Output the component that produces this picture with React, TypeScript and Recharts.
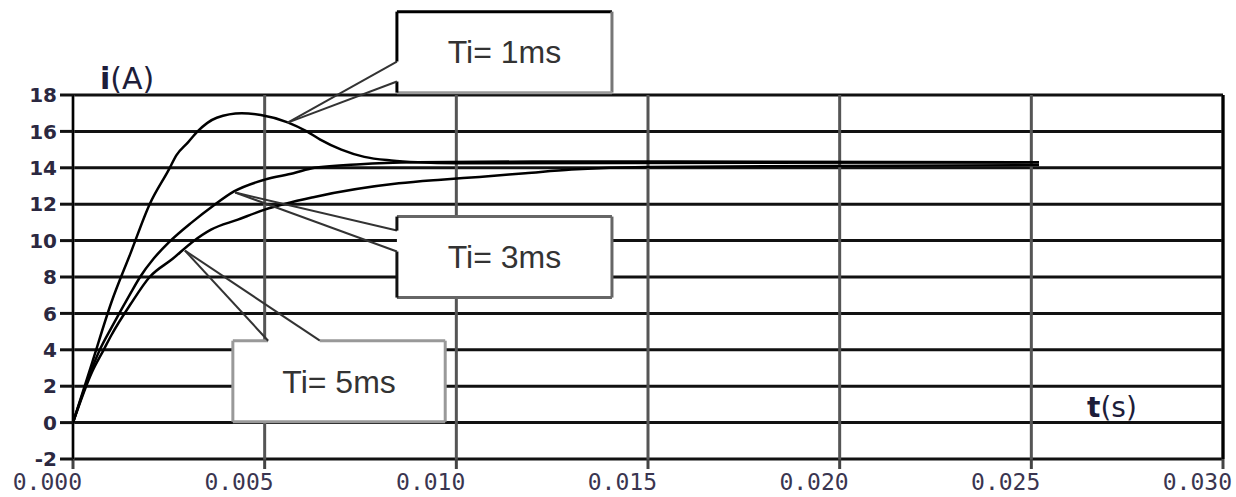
import React from 'react';
import { LineChart, Line, XAxis, YAxis, CartesianGrid, ReferenceLine, ReferenceArea } from 'recharts';

if (typeof document !== 'undefined') {
  document.body.style.margin = '0';
  document.body.style.background = '#fff';
}

// ---- Axis ticks ----
const X_TICKS = [0, 0.005, 0.01, 0.015, 0.02, 0.025, 0.03];
const Y_TICKS = [-2, 0, 2, 4, 6, 8, 10, 12, 14, 16, 18];

// ---- Series (time in ms, current in A) ----
const TI1_T = [0, 0.5, 1.0, 1.5, 2.0, 2.5, 2.7, 3.0, 3.25, 3.75, 4.4, 4.9, 5.6, 6.1, 6.45, 7.0, 7.6, 8.3, 9.0, 10.0, 25.2];
const TI1_I = [0, 3.3, 6.6, 9.3, 12.0, 13.9, 14.7, 15.4, 16.0, 16.75, 17.0, 16.9, 16.5, 16.0, 15.55, 15.0, 14.6, 14.4, 14.3, 14.25, 14.3];

const TI3_T = [0, 0.5, 0.7, 1.0, 1.5, 1.75, 2.1, 2.5, 3.1, 3.65, 4.2, 5.0, 5.75, 6.3, 7.5, 9.0, 12.0, 25.2];
const TI3_I = [0, 3.0, 4.0, 5.2, 7.1, 8.0, 9.0, 9.9, 11.0, 11.9, 12.7, 13.35, 13.7, 14.0, 14.2, 14.3, 14.35, 14.3];

const TI5_T = [0, 0.5, 0.8, 1.0, 1.5, 2.0, 2.6, 3.1, 3.6, 4.3, 5.0, 6.3, 8.5, 9.6, 10.6, 11.8, 13.0, 15.0, 25.2];
const TI5_I = [0, 2.8, 4.0, 4.8, 6.5, 8.0, 9.0, 9.9, 10.6, 11.15, 11.7, 12.4, 13.15, 13.35, 13.5, 13.7, 13.9, 14.05, 14.15];

const SERIES_LABELS = ['Ti= 1ms', 'Ti= 3ms', 'Ti= 5ms'];

const toPoints = (ts: number[], is: number[]) => ts.map((t, k) => ({ t: t / 1000, i: is[k] }));
const series = [toPoints(TI1_T, TI1_I), toPoints(TI3_T, TI3_I), toPoints(TI5_T, TI5_I)];

// ---- Callout annotations (data units: ms, A) ----
type Callout = {
  label: string;
  t1: number; t2: number; i1: number; i2: number;
  tip: [number, number];
  side: 'left' | 'top';
  a: number; b: number;
  cTop: string; cLeft: string; cRight: string; cBottom: string;
};

const CALLOUTS: Callout[] = [
  { label: SERIES_LABELS[0], t1: 8.45, t2: 14.06, i1: 18.13, i2: 22.58, tip: [5.6, 16.48], side: 'left', a: 19.84, b: 18.74,
    cTop: '#000', cLeft: '#000', cRight: '#777', cBottom: '#999' },
  { label: SERIES_LABELS[1], t1: 8.45, t2: 14.06, i1: 6.87, i2: 11.32, tip: [4.23, 12.64], side: 'left', a: 10.55, b: 9.4,
    cTop: '#666', cLeft: '#111', cRight: '#666', cBottom: '#666' },
  { label: SERIES_LABELS[2], t1: 4.17, t2: 9.71, i1: 0.05, i2: 4.5, tip: [2.92, 9.45], side: 'top', a: 5.09, b: 6.44,
    cTop: '#999', cLeft: '#999', cRight: '#999', cBottom: '#999' },
];

type Seg = { p: [number, number][]; c: string; w: number };
const calloutSegments = (c: Callout): Seg[] => {
  const P = (t: number, i: number): [number, number] => [t / 1000, i];
  const tip = P(c.tip[0], c.tip[1]);
  const lead = '#333';
  if (c.side === 'left') {
    return [
      { p: [P(c.t1, c.i2), P(c.t2, c.i2)], c: c.cTop, w: 3 },
      { p: [P(c.t2, c.i2), P(c.t2, c.i1)], c: c.cRight, w: 3 },
      { p: [P(c.t2, c.i1), P(c.t1, c.i1)], c: c.cBottom, w: 3 },
      { p: [P(c.t1, c.i1), P(c.t1, c.b)], c: c.cLeft, w: 3 },
      { p: [P(c.t1, c.b), tip], c: lead, w: 2 },
      { p: [tip, P(c.t1, c.a)], c: lead, w: 2 },
      { p: [P(c.t1, c.a), P(c.t1, c.i2)], c: c.cLeft, w: 3 },
    ];
  }
  return [
    { p: [P(c.t1, c.i2), P(c.a, c.i2)], c: c.cTop, w: 3 },
    { p: [P(c.a, c.i2), tip], c: lead, w: 2 },
    { p: [tip, P(c.b, c.i2)], c: lead, w: 2 },
    { p: [P(c.b, c.i2), P(c.t2, c.i2)], c: c.cTop, w: 3 },
    { p: [P(c.t2, c.i2), P(c.t2, c.i1)], c: c.cRight, w: 3 },
    { p: [P(c.t2, c.i1), P(c.t1, c.i1)], c: c.cBottom, w: 3 },
    { p: [P(c.t1, c.i1), P(c.t1, c.i2)], c: c.cLeft, w: 3 },
  ];
};

const XTick = (props: any) => {
  const { x, y, payload } = props;
  return (
    <text x={x + 9} y={y} dy={19} textAnchor="end" fill="#3a3550" fontSize={23}
      fontFamily="'DejaVu Sans Mono', monospace">
      {Number(payload.value).toFixed(3)}
    </text>
  );
};

const YTitle = (props: any) => {
  const vb = props.viewBox || { x: 13, y: 95, width: 60, height: 364 };
  return (
    <text x={vb.x + vb.width + 27} y={vb.y - 6} fill="#1d1d3a" fontSize={30} fontFamily="'DejaVu Sans', sans-serif">
      <tspan fontWeight="bold">i</tspan><tspan>(A)</tspan>
    </text>
  );
};

const XTitle = (props: any) => {
  const vb = props.viewBox || { x: 73, y: 459, width: 1150, height: 38 };
  return (
    <text x={vb.x + vb.width - 136} y={vb.y - 42} fill="#1d1d3a" fontSize={28} fontFamily="'DejaVu Sans', sans-serif">
      <tspan fontWeight="bold">t</tspan><tspan>(s)</tspan>
    </text>
  );
};

export default function App() {
  return (
    <div style={{ width: 1236, height: 497, background: '#fff' }}>
      <LineChart width={1236} height={497} margin={{ top: 95, right: 13, bottom: 0, left: 13 }}>
        <CartesianGrid vertical={false} stroke="#111" strokeWidth={3} />
        <CartesianGrid horizontal={false} stroke="#555" strokeWidth={3} />
        <XAxis type="number" dataKey="t" domain={[0, 0.03]} ticks={X_TICKS} interval={0} height={38}
          tickSize={10} axisLine={false} tickLine={{ stroke: '#444', strokeWidth: 3 }} tick={<XTick />}
          label={{ content: (p: any) => <XTitle {...p} /> }} allowDataOverflow />
        <YAxis type="number" domain={[-2, 18]} ticks={Y_TICKS} interval={0} width={60}
          tickSize={13} tickMargin={3} axisLine={{ stroke: '#000', strokeWidth: 2 }}
          tickLine={{ stroke: '#111', strokeWidth: 3 }}
          tick={{ fill: '#2b2840', fontSize: 20, fontWeight: 'bold', fontFamily: "'DejaVu Sans', sans-serif" }}
          label={{ content: (p: any) => <YTitle {...p} /> }} allowDataOverflow />
        <ReferenceLine x={0.03} stroke="#000" strokeWidth={3} />
        {series.map((d, k) => (
          <Line key={k} data={d} dataKey="i" type="monotone" stroke="#000" strokeWidth={2.5}
            dot={false} activeDot={false} isAnimationActive={false} />
        ))}
        {CALLOUTS.map((c, k) => (
          <ReferenceArea key={'a' + k} x1={c.t1 / 1000} x2={c.t2 / 1000} y1={c.i1} y2={c.i2}
            fill="#fff" fillOpacity={1} stroke="none" ifOverflow="visible"
            label={{ value: c.label, position: 'center', fill: '#333', fontSize: 32, fontFamily: "'Liberation Sans', Arial, sans-serif" }} />
        ))}
        {CALLOUTS.flatMap((c, k) => calloutSegments(c).map((s, j) => (
          <ReferenceLine key={'s' + k + '-' + j} segment={[{ x: s.p[0][0], y: s.p[0][1] }, { x: s.p[1][0], y: s.p[1][1] }]}
            stroke={s.c} strokeWidth={s.w} ifOverflow="visible" />
        )))}
      </LineChart>
    </div>
  );
}
